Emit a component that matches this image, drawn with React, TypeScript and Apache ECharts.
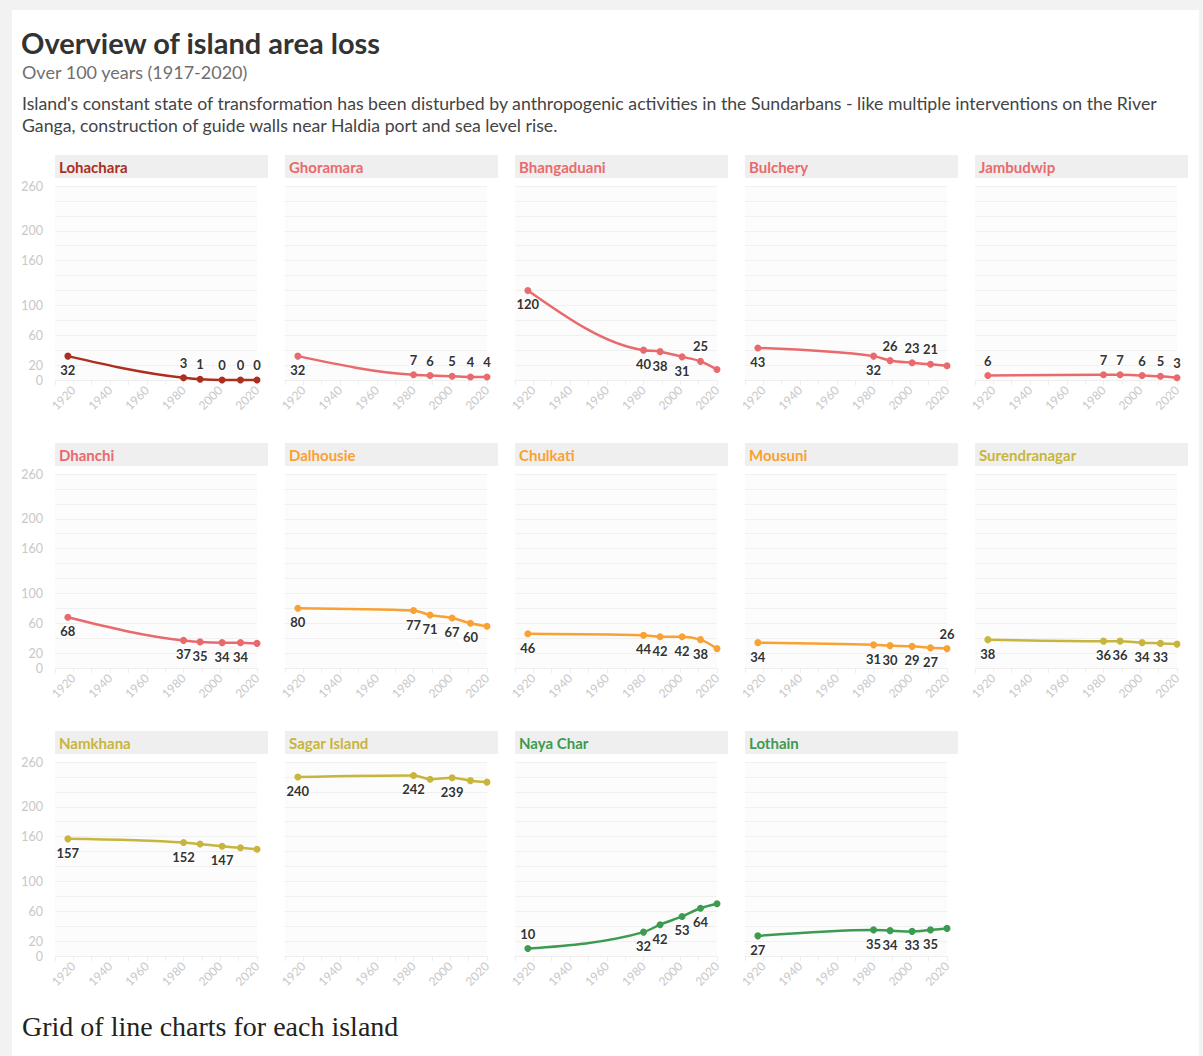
import React, { useEffect, useRef } from "react";
import * as echarts from "echarts";

const years = [1917, 1980, 1989, 2001, 2011, 2020];
const islandNames = [
  "Lohachara", "Ghoramara", "Bhangaduani", "Bulchery", "Jambudwip",
  "Dhanchi", "Dalhousie", "Chulkati", "Mousuni", "Surendranagar",
  "Namkhana", "Sagar Island", "Naya Char", "Lothain",
];
const lohachara = [32, 3, 1, 0, 0, 0];
const ghoramara = [32, 7, 6, 5, 4, 4];
const bhangaduani = [120, 40, 38, 31, 25, 14];
const bulchery = [43, 32, 26, 23, 21, 19];
const jambudwip = [6, 7, 7, 6, 5, 3];
const dhanchi = [68, 37, 35, 34, 34, 33];
const dalhousie = [80, 77, 71, 67, 60, 56];
const chulkati = [46, 44, 42, 42, 38, 26];
const mousuni = [34, 31, 30, 29, 27, 26];
const surendranagar = [38, 36, 36, 34, 33, 32];
const namkhana = [157, 152, 150, 147, 145, 143];
const sagarIsland = [240, 242, 237, 239, 235, 233];
const nayaChar = [10, 32, 42, 53, 64, 70];
const lothain = [27, 35, 34, 33, 35, 37];
const yTickLabels = [0, 20, 60, 100, 160, 200, 260];
const xTickLabels = [1920, 1940, 1960, 1980, 2000, 2020];

const seriesValues = [
  lohachara, ghoramara, bhangaduani, bulchery, jambudwip,
  dhanchi, dalhousie, chulkati, mousuni, surendranagar,
  namkhana, sagarIsland, nayaChar, lothain,
];

// label placement per point: b = below, t = above, - = hidden (style only)
const labelPlacement = [
  "btttttt", "bttttt", "bbbbt-", "bbttt-", "tttttt",
  "bbbbb-", "bbbbb-", "bbbbb-", "bbbbbt", "bbbbb-",
  "bb-b--", "bb-b--", "tbbbb-", "bbbbb-",
];

const DARKRED = "#ac2e1f";
const RED = "#e96a6c";
const ORANGE = "#f9a133";
const OLIVE = "#c8b53d";
const GREEN = "#3c9b50";
const colors = [
  DARKRED, RED, RED, RED, RED,
  RED, ORANGE, ORANGE, ORANGE, OLIVE,
  OLIVE, OLIVE, GREEN, GREEN,
];

const FONT = "Lato, 'Open Sans', sans-serif";

// monotone-x cubic tangents (as in d3.curveMonotoneX), computed in pixel space
function sign(v: number) { return v < 0 ? -1 : 1; }
function tangents(pts: number[][]) {
  const n = pts.length;
  const t: number[] = new Array(n).fill(0);
  for (let i = 1; i < n - 1; i++) {
    const h0 = pts[i][0] - pts[i - 1][0];
    const h1 = pts[i + 1][0] - pts[i][0];
    const s0 = (pts[i][1] - pts[i - 1][1]) / h0;
    const s1 = (pts[i + 1][1] - pts[i][1]) / h1;
    const p = (s0 * h1 + s1 * h0) / (h0 + h1);
    t[i] = (sign(s0) + sign(s1)) * Math.min(Math.abs(s0), Math.abs(s1), 0.5 * Math.abs(p)) || 0;
  }
  const hA = pts[1][0] - pts[0][0];
  t[0] = (3 * (pts[1][1] - pts[0][1]) / hA - t[1]) / 2;
  const hB = pts[n - 1][0] - pts[n - 2][0];
  t[n - 1] = (3 * (pts[n - 1][1] - pts[n - 2][1]) / hB - t[n - 2]) / 2;
  return t;
}

export default function App() {
  const ref = useRef<HTMLDivElement>(null);
  useEffect(() => {
    if (!ref.current) return;
    const chart = echarts.init(ref.current, null, { renderer: "svg" });

    const colLeft = 55;
    const colStep = 230;
    const plotW = 202;
    const rowTops = [186, 474, 762];
    const plotH = 194;
    const grids: any[] = [];
    const xAxes: any[] = [];
    const yAxes: any[] = [];
    const series: any[] = [];
    const graphics: any[] = [
      { type: "rect", shape: { x: 0, y: 0, width: 1203, height: 1056 }, style: { fill: "#f2f2f2" }, silent: true, z: -10 },
      { type: "rect", shape: { x: 12, y: 10, width: 1187, height: 1046 }, style: { fill: "#ffffff" }, silent: true, z: -9 },
      { type: "text", x: 21, y: 42, style: { text: "Overview of island area loss", font: `bold 29px ${FONT}`, fill: "#333333", textVerticalAlign: "middle" } },
      { type: "text", x: 22, y: 72, style: { text: "Over 100 years (1917-2020)", font: `18px ${FONT}`, fill: "#6f6f6f", textVerticalAlign: "middle" } },
      { type: "text", x: 22, y: 103, style: { text: "Island's constant state of transformation has been disturbed by anthropogenic activities in the Sundarbans - like multiple interventions on the River", font: `17.7px ${FONT}`, fill: "#444444", textVerticalAlign: "middle" } },
      { type: "text", x: 22, y: 125, style: { text: "Ganga, construction of guide walls near Haldia port and sea level rise.", font: `17.7px ${FONT}`, fill: "#444444", textVerticalAlign: "middle" } },
      { type: "text", x: 22, y: 1026, style: { text: "Grid of line charts for each island", font: "28px 'Liberation Serif', 'Times New Roman', serif", fill: "#222222", textVerticalAlign: "middle" } },
    ];

    islandNames.forEach((name, i) => {
      const row = Math.floor(i / 5);
      const col = i % 5;
      const left = colLeft + col * colStep;
      const top = rowTops[row];
      grids.push({
        left, top, width: plotW, height: plotH,
        show: true, backgroundColor: "#fcfcfc", borderWidth: 0,
      });
      graphics.push({
        type: "rect",
        shape: { x: left, y: top - 31, width: 213, height: 23 },
        style: { fill: "#efefef" }, silent: true,
      });
      graphics.push({
        type: "text", x: left + 4, y: top - 19.5,
        style: { text: name, font: `bold 15px ${FONT}`, fill: colors[i], textVerticalAlign: "middle" },
      });
      xAxes.push({
        type: "value", gridIndex: i, min: 1910, max: 2020, interval: 10,
        axisLine: { show: true, lineStyle: { color: "#eeeeee" } },
        axisTick: { show: true, length: 5, lineStyle: { color: "#eeeeee" } },
        splitLine: { show: false },
        axisLabel: {
          rotate: 45, color: "#c8c8c8", fontSize: 12, fontFamily: FONT, margin: 8,
          formatter: (v: number) => (xTickLabels.includes(v) ? String(v) : ""),
        },
      });
      yAxes.push({
        type: "value", gridIndex: i, min: 0, max: 260, interval: 20,
        axisLine: { show: false }, axisTick: { show: false },
        splitLine: { show: true, lineStyle: { color: "#f0f0f0", width: 1 } },
        axisLabel: {
          show: col === 0, color: "#c8c8c8", fontSize: 12.5, fontFamily: FONT, margin: 12,
          formatter: (v: number) => (yTickLabels.includes(v) ? String(v) : ""),
        },
      });
      const vals = seriesValues[i];
      const place = labelPlacement[i];
      const color = colors[i];
      series.push({
        type: "custom", xAxisIndex: i, yAxisIndex: i, z: 2, silent: true,
        data: vals.map((v, k) => [years[k], v]),
        renderItem: (params: any, api: any) => {
          const k = params.dataIndex;
          if (k >= vals.length - 1) return null;
          const pts = vals.map((v, j) => api.coord([years[j], v]));
          const t = tangents(pts);
          const [x0, y0] = pts[k];
          const [x1, y1] = pts[k + 1];
          const dx = (x1 - x0) / 3;
          return {
            type: "bezierCurve",
            shape: {
              x1: x0, y1: y0, x2: x1, y2: y1,
              cpx1: x0 + dx, cpy1: y0 + dx * t[k],
              cpx2: x1 - dx, cpy2: y1 - dx * t[k + 1],
            },
            style: { stroke: color, lineWidth: 2.5, fill: null, lineCap: "round" },
          };
        },
      });
      series.push({
        type: "scatter", xAxisIndex: i, yAxisIndex: i, z: 3,
        symbol: "circle", symbolSize: 7,
        itemStyle: { color, opacity: 1 },
        data: vals.map((v, k) => ({
          value: [years[k], v],
          label: {
            show: place[k] !== "-",
            position: place[k] === "t" ? "top" : "bottom",
            distance: place[k] === "t" ? 5 : 4,
            formatter: String(v),
            color: "#333333", fontWeight: "bold", fontSize: 13, fontFamily: FONT,
            textBorderColor: "#ffffff", textBorderWidth: 2,
          },
        })),
      });
    });

    chart.setOption({
      animation: false,
      backgroundColor: "#f2f2f2",
      grid: grids, xAxis: xAxes, yAxis: yAxes, series,
      graphic: graphics,
    });
    return () => chart.dispose();
  }, []);
  return (
    <div
      ref={ref}
      style={{ position: "absolute", left: 0, top: 0, width: 1203, height: 1056 }}
    />
  );
}
